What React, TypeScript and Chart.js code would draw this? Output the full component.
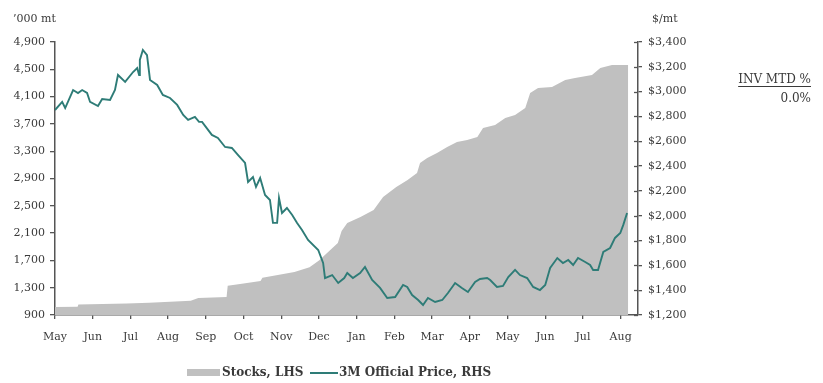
import { useEffect, useRef } from 'react';
import { Chart, registerables } from 'chart.js';

Chart.register(...registerables);

const monthLabels = ['May', 'Jun', 'Jul', 'Aug', 'Sep', 'Oct', 'Nov', 'Dec', 'Jan', 'Feb', 'Mar', 'Apr', 'May', 'Jun', 'Jul', 'Aug'];

// x in months since the first May tick
const stockMonths = [0, 0.6, 0.62, 1.9, 2.5, 3.6, 3.8, 4.55, 4.58, 5.0, 5.45, 5.5, 6.35, 6.75, 7.0, 7.5, 7.6, 7.75, 8.1, 8.45, 8.7, 9.05, 9.35, 9.6, 9.68, 9.87, 10.13, 10.4, 10.66, 10.93, 11.2, 11.35, 11.67, 11.94, 12.2, 12.47, 12.6, 12.81, 13.18, 13.53, 13.79, 14.24, 14.46, 14.77, 15.2];
const stockValues = [1017, 1020, 1055, 1070, 1080, 1110, 1150, 1165, 1330, 1360, 1400, 1445, 1530, 1600, 1700, 1955, 2130, 2248, 2336, 2438, 2629, 2775, 2878, 2980, 3127, 3200, 3273, 3361, 3434, 3464, 3508, 3640, 3683, 3786, 3830, 3932, 4152, 4226, 4240, 4343, 4372, 4416, 4519, 4562, 4562];

const priceMonths = [0.0, 0.19, 0.27, 0.48, 0.61, 0.72, 0.85, 0.93, 1.14, 1.25, 1.46, 1.59, 1.67, 1.86, 2.07, 2.18, 2.23, 2.25, 2.33, 2.44, 2.52, 2.71, 2.86, 3.05, 3.24, 3.40, 3.53, 3.71, 3.82, 3.90, 4.16, 4.32, 4.51, 4.69, 4.85, 5.04, 5.12, 5.25, 5.33, 5.44, 5.57, 5.70, 5.78, 5.89, 5.94, 6.02, 6.15, 6.29, 6.42, 6.55, 6.71, 6.98, 7.11, 7.16, 7.35, 7.51, 7.67, 7.75, 7.90, 8.09, 8.22, 8.41, 8.62, 8.81, 9.02, 9.23, 9.34, 9.47, 9.63, 9.76, 9.89, 10.08, 10.27, 10.42, 10.61, 10.79, 10.95, 11.14, 11.27, 11.46, 11.54, 11.72, 11.88, 12.02, 12.20, 12.33, 12.52, 12.68, 12.86, 13.00, 13.13, 13.32, 13.47, 13.61, 13.74, 13.87, 14.06, 14.19, 14.27, 14.40, 14.54, 14.72, 14.85, 14.99, 15.07, 15.17];
const priceValues = [2852, 2917, 2868, 3013, 2989, 3013, 2989, 2917, 2884, 2941, 2933, 3013, 3134, 3078, 3158, 3190, 3134, 3255, 3336, 3295, 3094, 3054, 2973, 2949, 2893, 2812, 2772, 2796, 2756, 2756, 2651, 2627, 2554, 2546, 2490, 2425, 2272, 2312, 2232, 2304, 2167, 2127, 1942, 1942, 2143, 2022, 2062, 2006, 1942, 1885, 1805, 1724, 1619, 1498, 1522, 1458, 1498, 1538, 1498, 1538, 1587, 1482, 1418, 1337, 1345, 1442, 1426, 1361, 1321, 1281, 1337, 1305, 1321, 1377, 1458, 1418, 1385, 1466, 1490, 1498, 1482, 1426, 1434, 1506, 1563, 1522, 1498, 1426, 1401, 1442, 1579, 1659, 1619, 1643, 1603, 1659, 1627, 1603, 1563, 1563, 1708, 1740, 1821, 1861, 1926, 2022];

const leftTitle = '\u2019000 mt';
const rightTitle = '$/mt';
const invTitle = 'INV MTD %';
const invValue = '0.0%';
const stockLabel = 'Stocks, LHS';
const priceLabel = '3M Official Price, RHS';

const GRAY = '#c0c0c0';
const TEAL = '#2e7c77';
const AXIS = '#555555';
const TEXT = '#3a3a3a';
const FONT = 'DejaVu Serif';

export default function App() {
  const ref = useRef<HTMLCanvasElement>(null);

  useEffect(() => {
    const canvas = ref.current!;
    const overlay = {
      id: 'overlay',
      afterDraw(chart: any) {
        const ctx = chart.ctx as CanvasRenderingContext2D;
        const area = chart.chartArea;
        ctx.save();
        // inner half of right-axis ticks
        const y1 = chart.scales.y1;
        ctx.strokeStyle = AXIS;
        ctx.lineWidth = 1.3;
        y1.ticks.forEach((t: any) => {
          const py = Math.round(y1.getPixelForValue(t.value)) + 0.5;
          ctx.beginPath();
          ctx.moveTo(area.right - 4, py);
          ctx.lineTo(area.right, py);
          ctx.stroke();
        });
        ctx.fillStyle = TEXT;
        ctx.textBaseline = 'middle';
        ctx.font = `11px "${FONT}"`;
        ctx.textAlign = 'left';
        ctx.fillText(leftTitle, 13, 19);
        ctx.fillText(rightTitle, 652, 19);
        ctx.font = `12px "${FONT}"`;
        ctx.textAlign = 'right';
        ctx.fillText(invTitle, 811, 80);
        const w = ctx.measureText(invTitle).width;
        ctx.fillRect(811 - w, 86, w, 1);
        ctx.fillText(invValue, 811, 99);
        // legend
        ctx.fillStyle = GRAY;
        ctx.fillRect(187, 369, 33, 7);
        ctx.fillStyle = TEXT;
        ctx.textAlign = 'left';
        ctx.font = `bold 12px "${FONT}"`;
        ctx.fillText(stockLabel, 222, 373);
        ctx.strokeStyle = TEAL;
        ctx.lineWidth = 2;
        ctx.beginPath();
        ctx.moveTo(310, 373);
        ctx.lineTo(338, 373);
        ctx.stroke();
        ctx.fillText(priceLabel, 339, 373);
        ctx.restore();
      },
    };

    const chart = new Chart(canvas, {
      type: 'line',
      data: {
        datasets: [
          {
            label: priceLabel,
            data: priceMonths.map((m, i) => ({ x: m, y: priceValues[i] })),
            yAxisID: 'y1',
            borderColor: TEAL,
            borderWidth: 1.9,
            pointRadius: 0,
            fill: false,
            tension: 0,
            order: 0,
          },
          {
            label: stockLabel,
            data: stockMonths.map((m, i) => ({ x: m, y: stockValues[i] })),
            yAxisID: 'y',
            borderWidth: 0,
            borderColor: GRAY,
            backgroundColor: GRAY,
            pointRadius: 0,
            fill: 'start',
            tension: 0,
            order: 1,
          },
        ],
      },
      options: {
        responsive: false,
        animation: false,
        events: [],
        layout: { padding: { top: 42, right: 125, bottom: 0, left: 0 } },
        plugins: { legend: { display: false }, tooltip: { enabled: false } },
        scales: {
          x: {
            type: 'linear',
            min: 0,
            max: 15.46,
            afterBuildTicks: (s: any) => {
              s.ticks = s.ticks.filter((t: any) => Number.isInteger(t.value));
            },
            afterFit: (s: any) => {
              s.height = 68;
            },
            ticks: {
              stepSize: 1,
              includeBounds: false,
              autoSkip: false,
              maxRotation: 0,
              padding: 12,
              color: TEXT,
              font: { family: FONT, size: 11 },
              callback: (v: any) => monthLabels[v as number] ?? '',
            },
            grid: { drawOnChartArea: false, tickLength: 4, color: AXIS, lineWidth: 1.3 },
            border: { color: AXIS, width: 1.5 },
          },
          y: {
            position: 'left',
            min: 900,
            max: 4900,
            afterFit: (s: any) => {
              s.width = 55;
            },
            ticks: {
              stepSize: 400,
              padding: 5,
              color: TEXT,
              font: { family: FONT, size: 11 },
              callback: (v: any) => Number(v).toLocaleString('en-US'),
            },
            grid: { drawOnChartArea: false, tickLength: 5, color: AXIS, lineWidth: 1.3 },
            border: { color: AXIS, width: 1.5 },
          },
          y1: {
            position: 'right',
            min: 1200,
            max: 3400,
            afterFit: (s: any) => {
              s.width = 60;
            },
            ticks: {
              stepSize: 200,
              padding: 6,
              color: TEXT,
              font: { family: FONT, size: 11 },
              callback: (v: any) => '$' + Number(v).toLocaleString('en-US'),
            },
            grid: { drawOnChartArea: false, tickLength: 4, color: AXIS, lineWidth: 1.3 },
            border: { color: AXIS, width: 1.5 },
          },
        },
      },
      plugins: [overlay],
    });
    return () => chart.destroy();
  }, []);

  return (
    <div style={{ position: 'absolute', left: 0, top: 0, width: 823, height: 383, background: '#fff' }}>
      <canvas ref={ref} width={823} height={383} style={{ display: 'block' }} />
    </div>
  );
}
